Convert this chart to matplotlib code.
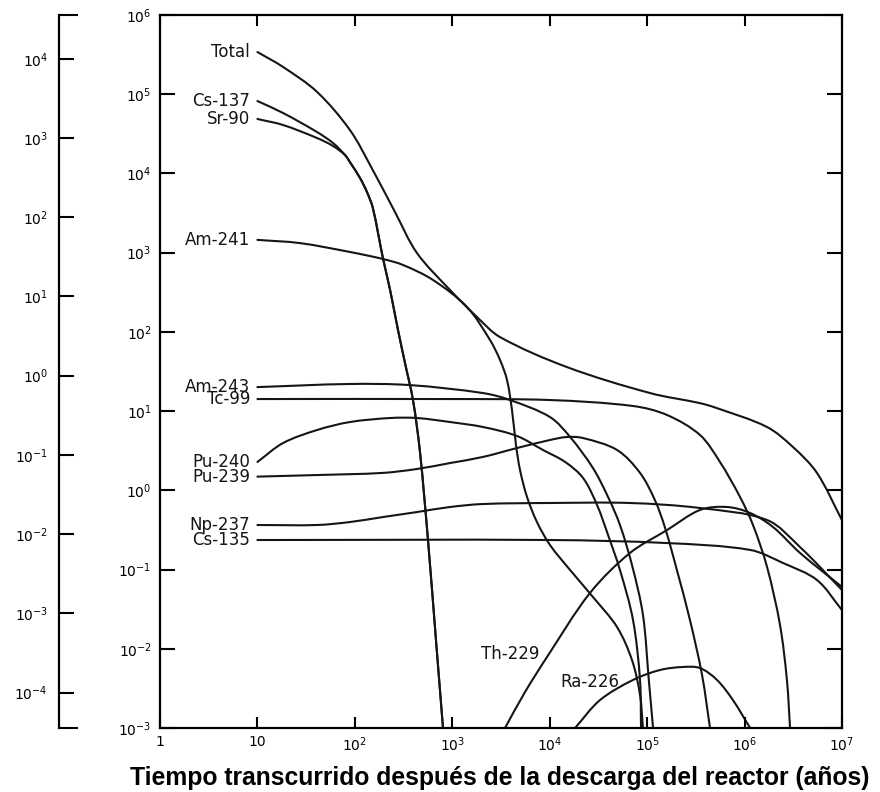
import matplotlib
matplotlib.use("Agg")
import numpy as np
import matplotlib.pyplot as plt
from matplotlib.path import Path
from matplotlib.patches import PathPatch
from matplotlib.ticker import FixedLocator, NullLocator

plt.rcParams['font.family'] = 'DejaVu Sans'
plt.rcParams['mathtext.fontset'] = 'dejavusans'

# --- datos (t en anos, actividad relativa) ---
total_t = [10, 18.3, 40.9, 89, 153, 258, 434, 948, 1794, 3090, 1.5e4,
           1.07e5, 3.49e5, 5.21e5, 1.7e6, 3.14e6, 5.53e6, 1e7]
total_y = [3.41e5, 2.21e5, 1.07e5, 3.53e4, 1.1e4, 3.26e3, 990, 338, 154,
           86, 36, 16.9, 12.6, 10.9, 6.3, 3.52, 1.66, 0.42]

cs137_t = [10, 18.3, 40.9, 59.7, 79.2, 89, 113, 133, 153, 194, 230, 277, 327, 395, 466,
           563, 680, 803]
cs137_y = [8.2e4, 5.8e4, 3.33e4, 2.42e4, 1.71e4, 1.39e4, 8.75e3, 5.84e3, 3.66e3, 857, 338,
           106, 40.5, 13.8, 3.05, 0.236, 0.0129, 1e-3]

sr90_t = [10, 18.3, 40.9, 59.7, 79.2, 89, 113, 133, 153, 194, 230, 277, 327, 395, 466,
          563, 680, 803]
sr90_y = [4.87e4, 4.09e4, 2.8e4, 2.22e4, 1.71e4, 1.39e4, 8.75e3, 5.84e3, 3.66e3, 857, 338,
          106, 40.5, 13.8, 3.05, 0.236, 0.0129, 1e-3]

am241_t = [10, 27.4, 89, 194, 312, 634, 1416, 2438, 3090, 3645, 4100, 4508, 4955, 5850,
           7400, 1.007e4, 1.62e4, 2.78e4, 4.91e4, 6.99e4, 8.45e4, 9.06e4]
am241_y = [1.45e3, 1.32e3, 1.02e3, 832, 699, 452, 206, 79, 44.2, 24.7, 10.3, 3.73, 1.81,
           0.824, 0.398, 0.204, 0.0986, 0.045, 0.0188, 7.2e-3, 2.61e-3, 1e-3]

am243_t = [10, 89, 368, 2066, 3910, 1.007e4, 1.62e4, 2.78e4, 3.97e4, 5.26e4, 6.99e4,
           9.06e4, 1.04e5, 1.15e5]
am243_y = [20.1, 22.0, 21.3, 16.9, 13.8, 8.41, 4.71, 1.91, 0.824, 0.365, 0.114, 0.0267,
           4.04e-3, 1e-3]

tc99_t = [10, 948, 1.007e4, 7.16e4, 1.6e5, 3.49e5, 5.59e5, 8.98e5, 1.22e6, 1.7e6, 2.31e6,
          2.72e6, 2.93e6]
tc99_y = [14.2, 14.2, 13.8, 11.6, 8.93, 4.99, 2.28, 0.824, 0.365, 0.108, 0.02, 4.04e-3, 1e-3]

pu240_t = [10, 18.3, 40.9, 89, 230, 434, 948, 2066, 4614, 8530, 1.44e4, 2.2e4, 3.06e4,
           3.97e4, 5.26e4, 7.16e4, 8.45e4, 8.65e4]
pu240_y = [2.28, 3.95, 5.77, 7.28, 8.18, 8.18, 7.28, 6.30, 4.85, 3.23, 2.28, 1.43, 0.653,
           0.273, 0.0986, 0.0231, 4.04e-3, 1e-3]

pu239_t = [10, 40.9, 194, 434, 948, 2066, 4614, 1.007e4, 1.5e4, 2.2e4, 4.91e4, 8.45e4,
           1.2e5, 1.53e5, 2.02e5, 2.75e5, 3.66e5, 4.42e5]
pu239_y = [1.49, 1.56, 1.66, 1.86, 2.21, 2.64, 3.42, 4.32, 4.71, 4.57, 3.23, 1.66, 0.755,
           0.334, 0.0986, 0.0231, 4.67e-3, 1e-3]

np237_t = [10, 40.9, 89, 194, 434, 948, 2066, 1.007e4, 6.67e4, 3.49e5, 1.7e6, 3.71e6, 1e7]
np237_y = [0.365, 0.365, 0.398, 0.460, 0.532, 0.616, 0.672, 0.692, 0.692, 0.598, 0.422,
           0.192, 0.0552]

cs135_t = [10, 1.007e4, 1.6e5, 1.14e6, 2.48e6, 5.53e6, 1e7]
cs135_y = [0.236, 0.236, 0.216, 0.177, 0.121, 0.0738, 0.0308]

th229_t = [3475, 5575, 9380, 2.59e4, 6.67e4, 1.6e5, 3.49e5, 6.6e5, 1.14e6, 1.96e6, 3.71e6, 1e7]
th229_y = [1e-3, 2.84e-3, 7.87e-3, 0.0506, 0.162, 0.315, 0.565, 0.616, 0.518, 0.344, 0.162,
           0.0603]

ra226_t = [1.82e4, 3.28e4, 7.16e4, 1.36e5, 2.33e5, 3.49e5, 5.21e5, 7.6e5, 1.14e6]
ra226_y = [1e-3, 2.25e-3, 4.04e-3, 5.4e-3, 5.89e-3, 5.71e-3, 4.04e-3, 2.25e-3, 1e-3]

left_curves = [
    ('Total', total_t, total_y),
    ('Cs-137', cs137_t, cs137_y),
    ('Sr-90', sr90_t, sr90_y),
    ('Am-241', am241_t, am241_y),
    ('Am-243', am243_t, am243_y),
    ('Tc-99', tc99_t, tc99_y),
    ('Pu-240', pu240_t, pu240_y),
    ('Pu-239', pu239_t, pu239_y),
    ('Np-237', np237_t, np237_y),
    ('Cs-135', cs135_t, cs135_y),
]

x_ticks = [1, 10, 1e2, 1e3, 1e4, 1e5, 1e6, 1e7]
x_labels = ['1', '10', '$10^{2}$', '$10^{3}$', '$10^{4}$', '$10^{5}$', '$10^{6}$', '$10^{7}$']
y_ticks = [1e-3, 1e-2, 1e-1, 1, 10, 1e2, 1e3, 1e4, 1e5, 1e6]
y_labels = ['$10^{-3}$', '$10^{-2}$', '$10^{-1}$', '$10^{0}$', '$10^{1}$', '$10^{2}$',
            '$10^{3}$', '$10^{4}$', '$10^{5}$', '$10^{6}$']
sec_ticks = [1e-4, 1e-3, 1e-2, 1e-1, 1, 10, 1e2, 1e3, 1e4]
sec_labels = ['$10^{-4}$', '$10^{-3}$', '$10^{-2}$', '$10^{-1}$', '$10^{0}$', '$10^{1}$',
              '$10^{2}$', '$10^{3}$', '$10^{4}$']
sec_factor = 28.0

W, H = 880, 792
XW = 97.43 / 79.22  # ancho de una decada en x respecto a y


def smooth_path(t, y):
    """Curva suave (bezier) que pasa por los puntos leidos, en espacio log-log."""
    P = np.column_stack([np.log10(t) * XW, np.log10(y)])
    n = len(P)
    d = np.hypot(*np.diff(P, axis=0).T)
    m = np.zeros_like(P)
    m[0] = (P[1] - P[0]) / d[0]
    m[-1] = (P[-1] - P[-2]) / d[-1]
    for i in range(1, n - 1):
        m[i] = (P[i + 1] - P[i - 1]) / (d[i - 1] + d[i])
    verts = [P[0]]
    codes = [Path.MOVETO]
    for i in range(n - 1):
        verts += [P[i] + m[i] * d[i] / 3, P[i + 1] - m[i + 1] * d[i] / 3, P[i + 1]]
        codes += [Path.CURVE4] * 3
    verts = np.array(verts)
    verts[:, 0] = 10 ** (verts[:, 0] / XW)
    verts[:, 1] = 10 ** verts[:, 1]
    return Path(verts, codes)


fig = plt.figure(figsize=(W / 100, H / 100), dpi=100)
ax = fig.add_axes([160 / W, 64 / H, 682 / W, 713 / H])
ax.set_xscale('log')
ax.set_yscale('log')
ax.set_xlim(1, 1e7)
ax.set_ylim(1e-3, 1e6)

ink = '#151515'
lab_fs = 12


def draw(t, y):
    ax.add_patch(PathPatch(smooth_path(t, y), facecolor='none', edgecolor=ink,
                           lw=1.5, capstyle='round', joinstyle='round'))


for name, t, y in left_curves:
    draw(t, y)
    ax.text(8.4, y[0], name, ha='right', va='center', fontsize=lab_fs, color=ink)

draw(th229_t, th229_y)
draw(ra226_t, ra226_y)
ax.text(7900, 8.6e-3, 'Th-229', ha='right', va='center', fontsize=lab_fs, color=ink)
ax.text(5.2e4, 3.8e-3, 'Ra-226', ha='right', va='center', fontsize=lab_fs, color=ink)

ax.xaxis.set_major_locator(FixedLocator(x_ticks))
ax.xaxis.set_minor_locator(NullLocator())
ax.set_xticklabels(x_labels)
ax.yaxis.set_major_locator(FixedLocator(y_ticks))
ax.yaxis.set_minor_locator(NullLocator())
ax.set_yticklabels(y_labels)
ax.tick_params(axis='x', which='major', direction='in', length=8, width=1.5,
               top=True, labelsize=10, pad=5)
ax.tick_params(axis='y', which='major', direction='in', length=11, width=1.5,
               right=True, labelsize=10, pad=6)
for s in ax.spines.values():
    s.set_linewidth(1.6)

# eje secundario a la izquierda
ax_s = fig.add_axes([59 / W, 64 / H, 0.01, 713 / H])
ax_s.set_yscale('log')
ax_s.set_ylim(1e-3 / sec_factor, 1e6 / sec_factor)
ax_s.patch.set_visible(False)
for side in ['top', 'right', 'bottom']:
    ax_s.spines[side].set_visible(False)
ax_s.spines['left'].set_linewidth(1.6)
ax_s.set_xticks([])
ax_s.yaxis.set_major_locator(FixedLocator(sec_ticks))
ax_s.yaxis.set_minor_locator(FixedLocator([1e-3 / sec_factor, 1e6 / sec_factor]))
ax_s.set_yticklabels(sec_labels)
ax_s.tick_params(axis='y', which='major', direction='in', length=11, width=1.5,
                 labelsize=10, pad=8)
ax_s.tick_params(axis='y', which='minor', direction='in', length=13.5, width=1.5,
                 labelleft=False)

fig.text(500 / W, 1 - 785 / H, 'Tiempo transcurrido después de la descarga del reactor (años)',
         ha='center', va='baseline', fontsize=17.8, fontweight='bold',
         family='Liberation Sans')

fig.savefig('out.png', dpi=100)
